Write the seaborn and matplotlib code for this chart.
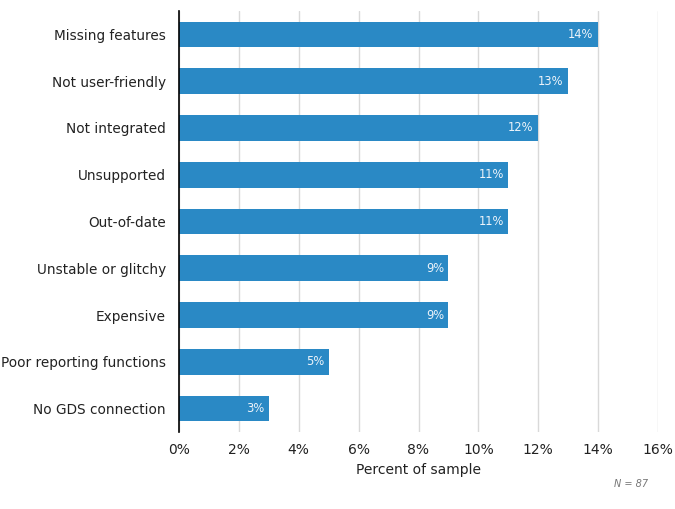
import matplotlib
matplotlib.use("Agg")
import matplotlib.pyplot as plt
import seaborn as sns
import pandas as pd

categories = ["Missing features", "Not user-friendly", "Not integrated", "Unsupported",
              "Out-of-date", "Unstable or glitchy", "Expensive",
              "Poor reporting functions", "No GDS connection"]
values = [14, 13, 12, 11, 11, 9, 9, 5, 3]
xticks = [0, 2, 4, 6, 8, 10, 12, 14, 16]

sns.set_theme(style="white")
plt.rcParams['font.family'] = ['DejaVu Sans']

df = pd.DataFrame({"cat": categories, "val": values})

fig = plt.figure(figsize=(6.75, 5.09), dpi=100)
ax = fig.add_axes([179/675, 1-432/509, (658-179)/675, (432-11)/509])
sns.barplot(data=df, x="val", y="cat", color="#2a89c5", saturation=1, width=0.55,
            linewidth=0, ax=ax, zorder=3)

ax.set_xlim(0, 16)
ax.set_ylim(8.5, -0.5)
ax.set_xticks(xticks)
ax.set_xticklabels([f"{t}%" for t in xticks], fontsize=10, color="#222222")
ax.tick_params(axis="y", labelsize=9.8, labelcolor="#222222", length=0, pad=9.5)
ax.tick_params(axis="x", length=0, pad=8)
ax.set_ylabel("")
ax.set_xlabel("Percent of sample", fontsize=10, color="#222222", labelpad=4)
ax.xaxis.grid(True, color="#d9d9d9", linewidth=1, zorder=0)
ax.set_axisbelow(True)
for s in ["top", "right", "bottom"]:
    ax.spines[s].set_visible(False)
ax.spines["left"].set_color("black")
ax.spines["left"].set_linewidth(1.2)
ax.spines["left"].set_zorder(5)

for i, v in enumerate(values):
    ax.text(v - 0.15, i, f"{v}%", ha="right", va="center", color="#eef4fa",
            fontsize=8.3, zorder=4)

fig.text(648/675, 1-484/509, "N = 87", ha="right", va="center", fontsize=7,
         style="italic", color="#777777")

fig.savefig("out.png", dpi=100)
